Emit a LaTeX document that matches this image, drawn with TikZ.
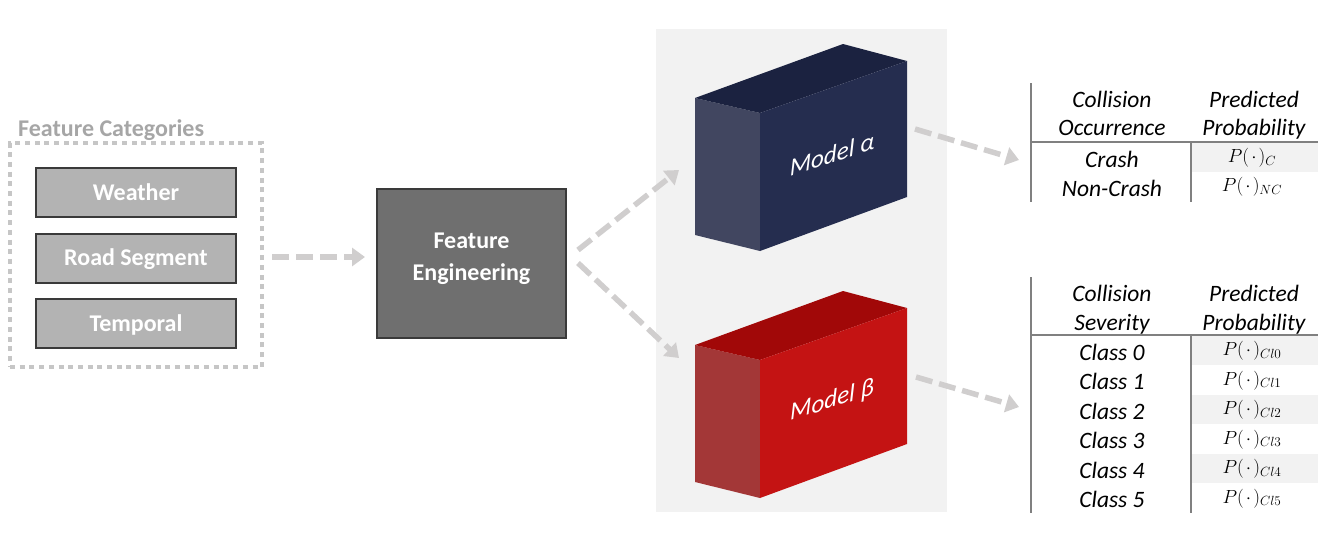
\documentclass[tikz,border=0pt]{standalone}
\usepackage{fix-cm}
\usepackage{fontspec}
\setmainfont{Carlito}
\usetikzlibrary{arrows.meta}
\definecolor{panelgray}{HTML}{F2F2F2}
\definecolor{arrowgray}{RGB}{208,206,206}
\definecolor{dotgray}{HTML}{C6C6C6}
\definecolor{titlegray}{HTML}{A6A6A6}
\definecolor{catfill}{HTML}{B3B3B3}
\definecolor{fefill}{HTML}{6F6F6F}
\definecolor{boxedge}{HTML}{3A3A3A}
\definecolor{atop}{HTML}{1B2240}
\definecolor{afront}{HTML}{252D4F}
\definecolor{aside}{HTML}{414660}
\definecolor{btop}{HTML}{A10808}
\definecolor{bfront}{HTML}{C41313}
\definecolor{bside}{HTML}{A33737}
\definecolor{linegray}{HTML}{808080}

\begin{document}
\begin{tikzpicture}[x=1pt, y=-1pt,
    flow/.style={draw=arrowgray, line width=5.5pt, dash pattern=on 17pt off 7pt, -{Triangle[length=13pt,width=18pt]}},
    catbox/.style={draw=boxedge, line width=2pt, fill=catfill, minimum width=200pt, minimum height=49pt, text=white, font=\bfseries\fontsize{24}{28}\selectfont, text height=15.5pt, text depth=0pt},
    tabtxt/.style={anchor=base, inner sep=0pt, font=\itshape\fontsize{23.5}{28}\selectfont},
    probtxt/.style={inner sep=0pt, font=\fontsize{19}{22}\selectfont},
    modeltxt/.style={inner sep=0pt, text=white, font=\itshape\fontsize{25}{28}\selectfont},
    tabline/.style={draw=linegray, line width=1.5pt}]
    \useasboundingbox (0,0) rectangle (1342,557);
    % model panel
    \fill[panelgray] (656,29) rectangle (947,512);
    % feature categories
    \node[draw=dotgray, line width=4.5pt, dash pattern=on 5pt off 4.7pt, minimum width=252pt, minimum height=224pt] (cats) at (136,255) {};
    \node[anchor=base west, inner sep=0pt, text=titlegray, font=\bfseries\fontsize{24}{28}\selectfont] (cats-title) at (18,136) {Feature Categories};
    \foreach \t/\y [count=\i] in {Weather/192.5, Road Segment/258, Temporal/323.5}
        \node[catbox] (cat\i) at (136,\y) {\t};
    \node[draw=boxedge, line width=2pt, fill=fefill, minimum width=189pt, minimum height=149pt] (fe) at (471.5,263.5) {};
    \node[align=center, text=white, font=\bfseries\fontsize{24}{32}\selectfont] (fe-lbl) at (471.5,259) {Feature\\Engineering};
    % models
    \foreach \dy/\lbl/\tp/\fr/\sd [count=\i] in {0/α/atop/afront/aside, 247/β/btop/bfront/bside}{
        \fill[\sd] (695,98+\dy) -- (760,113+\dy) -- (760,251+\dy) -- (695,235+\dy) -- cycle;
        \fill[\tp] (695,98+\dy) -- (843,44+\dy) -- (907,61+\dy) -- (760,113+\dy) -- cycle;
        \fill[\fr] (760,113+\dy) -- (907,61+\dy) -- (907,197+\dy) -- (760,251+\dy) -- cycle;
        \begin{scope}[shift={(832,154+\dy)}, yslant=0.32]
            \node[modeltxt, transform shape] (model\i) at (0,0) {Model \lbl};
        \end{scope}
    }
    \coordinate (alpha-in) at (679,170);
    \coordinate (beta-in) at (679,358);
    \coordinate (alpha-out) at (915,129);
    \coordinate (beta-out) at (916,377);
    % occurrence table
    \fill[panelgray] (1192,143) rectangle (1318,172);
    \draw[tabline] (1031,83) -- (1031,202);
    \draw[tabline] (1031,142) -- (1318,142);
    \draw[tabline] (1191,142) -- (1191,202);
    \foreach \t/\x/\y [count=\i] in {Collision/1112/107, Occurrence/1112/135, Predicted/1254/107, Probability/1254/135}
        \node[tabtxt] (occhead\i) at (\x,\y) {\t};
    \foreach \c/\s [count=\i] in {Crash/C, Non-Crash/NC}{
        \node[tabtxt] (occrow\i) at (1112,138+29*\i) {\c};
        \node[probtxt] (occprob\i) at (1252,128.5+29*\i) {$P(\mkern2mu\cdot\mkern2mu)_{\s}$};
    }
    \coordinate (occ-in) at (1019,160);
    % severity table
    \foreach \k in {0,2,4}
        \fill[panelgray] (1192,336+29.5*\k) rectangle (1318,365+29.5*\k);
    \draw[tabline] (1031,277) -- (1031,513);
    \draw[tabline] (1031,335) -- (1318,335);
    \draw[tabline] (1191,335) -- (1191,513);
    \foreach \t/\x/\y [count=\i] in {Collision/1112/301, Severity/1112/330, Predicted/1254/301, Probability/1254/330}
        \node[tabtxt] (sevhead\i) at (\x,\y) {\t};
    \foreach \k in {0,...,5}{
        \node[tabtxt] (sevrow\k) at (1112,360+29.5*\k) {Class \k};
        \node[probtxt] (sevprob\k) at (1252,350.75+29.5*\k) {$P(\mkern2mu\cdot\mkern2mu)_{Cl\k}$};
    }
    \coordinate (sev-in) at (1019,407);
    % arrows
    \draw[flow] ([shift={(8,2)}]cats.east) -- ([shift={(-11,2)}]cats.east -| fe.west);
    \draw[flow] ([shift={(11,-13.5)}]fe.east) -- (alpha-in);
    \draw[flow] ([shift={(11,-0.5)}]fe.east) -- (beta-in);
    \draw[flow] (alpha-out) -- (occ-in);
    \draw[flow] (beta-out) -- (sev-in);
\end{tikzpicture}
\end{document}
